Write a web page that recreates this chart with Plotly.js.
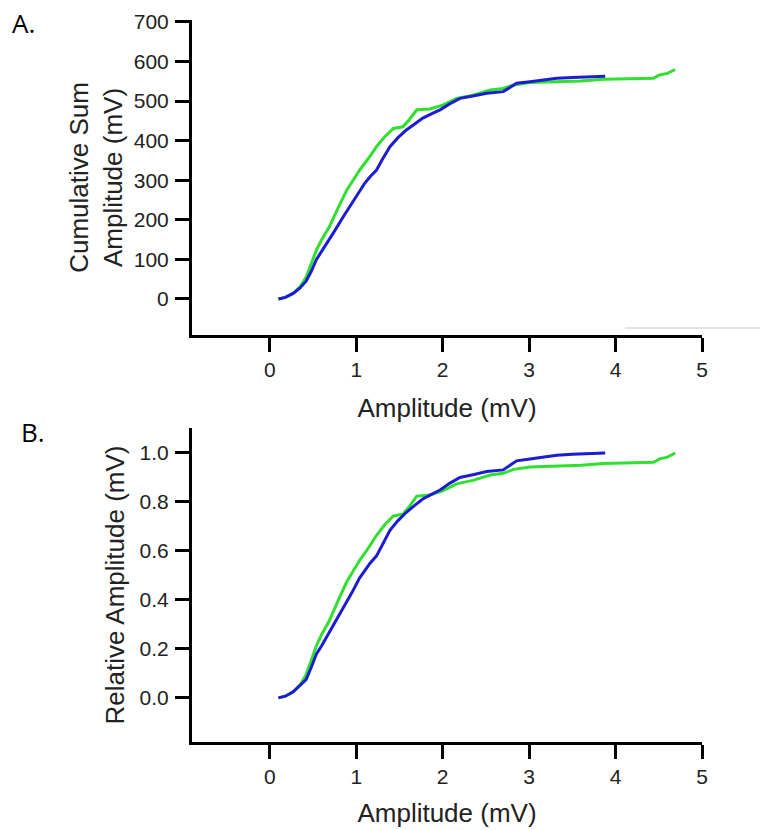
<!DOCTYPE html>
<html>
<head>
<meta charset="utf-8">
<script src="https://cdn.plot.ly/plotly-3.0.1.min.js"></script>
<style>html,body{margin:0;padding:0;background:#fff;}#chart{width:760px;height:830px;}</style>
</head>
<body>
<div id="chart"></div>
<script>
// Panel A: cumulative sum amplitude (mV) vs amplitude (mV)
const blueX = [0.10, 0.18, 0.27, 0.35, 0.42, 0.48, 0.54, 0.60, 0.66, 0.75, 0.85, 0.95, 1.04, 1.10, 1.16, 1.235, 1.30, 1.39, 1.48, 1.58, 1.68, 1.77, 1.87, 1.97, 2.08, 2.20, 2.35, 2.51, 2.70, 2.78, 2.855, 3.01, 3.15, 3.32, 3.50, 3.70, 3.88];
const blueCumY = [0, 4, 14, 28, 45, 70, 100, 120, 141, 172, 208, 242, 275, 293, 309, 326, 352, 385, 407, 427, 443, 457, 468, 478, 493, 507, 513, 520, 524, 535, 545, 549, 553, 558, 560, 562, 563];
const greenX = [0.10, 0.18, 0.27, 0.35, 0.42, 0.48, 0.54, 0.60, 0.69, 0.79, 0.89, 0.97, 1.04, 1.14, 1.235, 1.33, 1.43, 1.54, 1.62, 1.70, 1.85, 2.00, 2.16, 2.35, 2.55, 2.70, 2.82, 3.01, 3.20, 3.39, 3.60, 3.86, 4.10, 4.44, 4.51, 4.60, 4.69];
const greenCumY = [0, 4, 14, 31, 55, 90, 124, 150, 183, 230, 275, 302, 326, 355, 385, 410, 431, 435, 455, 478, 480, 490, 507, 515, 528, 532, 541, 547, 548, 549, 551, 555, 556, 558, 566, 570, 580];
// Panel B: relative amplitude
const blueRelY = [0, 0.007, 0.025, 0.05, 0.075, 0.125, 0.18, 0.213, 0.25, 0.305, 0.37, 0.43, 0.49, 0.52, 0.55, 0.58, 0.625, 0.684, 0.723, 0.758, 0.787, 0.812, 0.831, 0.849, 0.876, 0.90, 0.911, 0.924, 0.931, 0.95, 0.968, 0.975, 0.982, 0.991, 0.995, 0.998, 1.0];
const greenRelY = [0, 0.007, 0.024, 0.053, 0.095, 0.155, 0.214, 0.259, 0.316, 0.397, 0.474, 0.521, 0.562, 0.612, 0.664, 0.707, 0.743, 0.75, 0.784, 0.824, 0.828, 0.845, 0.874, 0.888, 0.91, 0.917, 0.933, 0.943, 0.945, 0.947, 0.95, 0.957, 0.959, 0.962, 0.976, 0.983, 1.0];
const xTicks = [0, 1, 2, 3, 4, 5];
const yTicksA = [0, 100, 200, 300, 400, 500, 600, 700];
const yTicksB = [0.0, 0.2, 0.4, 0.6, 0.8, 1.0];
const yTickTextB = ['0.0', '0.2', '0.4', '0.6', '0.8', '1.0'];

const GREEN = '#2fe02f';
const BLUE = '#1c1cd0';
const FONT = 'Liberation Sans, Arial, sans-serif';

const line = (c) => ({color: c, width: 3, shape: 'linear'});
const traces = [
  {x: greenX, y: greenCumY, mode: 'lines', line: line(GREEN), xaxis: 'x', yaxis: 'y'},
  {x: blueX, y: blueCumY, mode: 'lines', line: line(BLUE), xaxis: 'x', yaxis: 'y'},
  {x: greenX, y: greenRelY, mode: 'lines', line: line(GREEN), xaxis: 'x2', yaxis: 'y2'},
  {x: blueX, y: blueRelY, mode: 'lines', line: line(BLUE), xaxis: 'x2', yaxis: 'y2'}
];

function axisBase() {
  return {
    showline: true, linecolor: '#000', linewidth: 3,
    ticks: 'outside', ticklen: 14, tickwidth: 3, tickcolor: '#000',
    showgrid: false, zeroline: false, mirror: false,
    tickfont: {family: FONT, size: 21, color: '#222'}
  };
}
const xDom = [192/760, 702/760];
const layout = {
  width: 760, height: 830,
  margin: {l: 0, r: 0, t: 0, b: 0},
  paper_bgcolor: '#fff', plot_bgcolor: '#fff',
  showlegend: false,
  font: {family: FONT, color: '#222', size: 20},
  xaxis: Object.assign(axisBase(), {
    domain: xDom, range: [-0.9, 5], tickvals: xTicks, anchor: 'y',
    title: {text: 'Amplitude (mV)', font: {family: FONT, size: 26, color: '#222'}, standoff: 19}
  }),
  yaxis: Object.assign(axisBase(), {
    domain: [1 - 335/830, 1 - 20/830], range: [-91, 705], tickvals: yTicksA, anchor: 'x',
    ticklabelstandoff: 2,
    title: {text: 'Cumulative Sum<br>Amplitude (mV)', font: {family: FONT, size: 26, color: '#222'}, standoff: 4}
  }),
  xaxis2: Object.assign(axisBase(), {
    domain: xDom, range: [-0.9, 5], tickvals: xTicks, anchor: 'y2',
    title: {text: 'Amplitude (mV)', font: {family: FONT, size: 26, color: '#222'}, standoff: 17}
  }),
  yaxis2: Object.assign(axisBase(), {
    domain: [1 - 742/830, 1 - 428/830], range: [-0.18, 1.102], tickvals: yTicksB, ticktext: yTickTextB, anchor: 'x2',
    ticklabelstandoff: 2,
    title: {text: 'Relative Amplitude (mV)', font: {family: FONT, size: 26, color: '#222'}, standoff: 8}
  }),
  annotations: [
    {text: 'A.', xref: 'paper', yref: 'paper', x: 10/760, y: 1 - 23/830, xanchor: 'left', yanchor: 'middle', showarrow: false, font: {family: 'Open Sans, Noto Sans, sans-serif', size: 26, color: '#000'}},
    {text: 'B.', xref: 'paper', yref: 'paper', x: 19/760, y: 1 - 432/830, xanchor: 'left', yanchor: 'middle', showarrow: false, font: {family: 'Open Sans, Noto Sans, sans-serif', size: 26, color: '#000'}}
  ],
  shapes: [
    {type: 'line', xref: 'paper', yref: 'paper', x0: 625/760, x1: 1, y0: 1 - 328/830, y1: 1 - 328/830, line: {color: '#c8c8c8', width: 1}}
  ]
};
Plotly.newPlot('chart', traces, layout, {staticPlot: true, displayModeBar: false});
</script>
</body>
</html>
